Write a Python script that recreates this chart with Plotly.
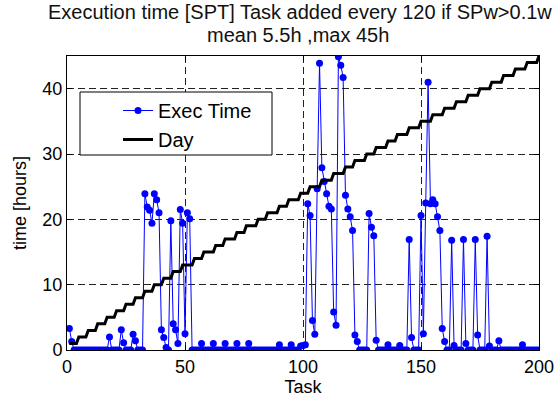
import plotly.graph_objects as go

# Task index (1..200)
tasks = list(range(1, 201))

# Execution time per task [hours]
exec_time = [
    3.3, 1.3, 0, 0, 0, 0, 0, 0, 0, 0,
    0, 0, 0, 0, 0, 0, 0, 2.0, 0, 0,
    0, 0, 3.1, 1.1, 0, 0, 0, 2.4, 1.4, 0,
    0, 0, 23.9, 21.9, 21.4, 19.4, 23.9, 23.0, 21.0, 3.1,
    1.9, 0.4, 0, 19.8, 4.0, 3.1, 1.0, 21.5, 19.4, 2.5,
    21.0, 20.1, 0, 0, 0, 0, 1.0, 0, 0, 0,
    0, 1.0, 0, 0, 0, 0, 1.0, 0, 0, 0,
    0, 1.0, 0, 0, 0, 0, 1.0, 0, 0, 0,
    0, 0, 0, 0, 0, 0, 0, 0, 0, 0.8,
    0, 0, 0, 0, 0.8, 0, 0, 0, 0.6, 0.7,
    0.8, 22.4, 20.6, 4.5, 2.4, 24.7, 43.9, 27.9, 25.8, 23.9,
    22.0, 21.6, 5.8, 3.8, 44.9, 43.6, 41.7, 23.7, 21.6, 20.4,
    18.3, 2.3, 1.3, 0, 0, 0, 0, 20.9, 18.8, 17.5,
    1.5, 0, 0, 0, 0, 0.8, 0, 0, 0, 0,
    0.7, 0, 0, 0, 16.9, 1.9, 0, 0, 0, 20.6,
    2.5, 22.5, 41.0, 22.4, 23.0, 22.4, 20.4, 18.3, 3.3, 1.3,
    0, 0, 16.8, 0.7, 0, 0, 0, 16.9, 1.0, 0,
    0, 0, 16.9, 2.3, 0, 0, 0, 17.4, 0.6, 0,
    0, 0, 1.4, 0, 0, 0, 0, 0, 0, 0,
    0, 0, 0.8, 0, 0, 0, 0, 0, 0, 0,
]

# Day staircase
day = [
    1, 1, 1, 1, 2, 2, 2, 2, 3, 3,
    3, 3, 4, 4, 4, 4, 5, 5, 5, 5,
    6, 6, 6, 6, 7, 7, 7, 7, 8, 8,
    8, 8, 9, 9, 9, 9, 10, 10, 10, 10,
    11, 11, 11, 11, 12, 12, 12, 12, 13, 13,
    13, 13, 13, 14, 14, 14, 14, 15, 15, 15,
    15, 15, 16, 16, 16, 16, 17, 17, 17, 17,
    17, 18, 18, 18, 18, 19, 19, 19, 19, 19,
    20, 20, 20, 20, 21, 21, 21, 21, 21, 22,
    22, 22, 22, 23, 23, 23, 23, 23, 24, 24,
    24, 24, 25, 25, 25, 25, 25, 26, 26, 26,
    26, 26, 27, 27, 27, 27, 27, 28, 28, 28,
    28, 29, 29, 29, 29, 29, 30, 30, 30, 30,
    31, 31, 31, 31, 31, 32, 32, 32, 32, 33,
    33, 33, 33, 33, 34, 34, 34, 34, 34, 35,
    35, 35, 35, 35, 36, 36, 36, 36, 36, 37,
    37, 37, 37, 37, 38, 38, 38, 38, 38, 39,
    39, 39, 39, 39, 40, 40, 40, 40, 40, 41,
    41, 41, 41, 41, 42, 42, 42, 42, 42, 43,
    43, 43, 43, 43, 44, 44, 44, 44, 44, 45,
]

x_ticks = [0, 50, 100, 150, 200]
y_ticks = [0, 10, 20, 30, 40]

title_lines = ["Execution time [SPT] Task added every 120 if SPw>0.1w",
               "mean 5.5h ,max 45h"]

FONT = "Liberation Sans, Arial, Helvetica, sans-serif"

W, H = 554, 406
ML, MR, MT, MB = 67, 15, 56, 56
PW, PH = W - ML - MR, H - MT - MB


def px_x(p):
    return (p - ML) / PW


def px_y(p):
    return (H - MB - p) / PH


fig = go.Figure()
fig.add_trace(go.Scatter(
    x=tasks, y=exec_time, mode="lines+markers", name="Exec Time",
    line=dict(color="#0000FF", width=1),
    marker=dict(color="#0000FF", size=7, line=dict(width=0)),
))
fig.add_trace(go.Scatter(
    x=tasks, y=day, mode="lines", name="Day",
    line=dict(color="black", width=3),
))

axis_common = dict(
    showline=True, linecolor="black", linewidth=1, mirror="allticks",
    ticks="inside", ticklen=5, tickcolor="black",
    showgrid=True, gridcolor="#222", gridwidth=1, griddash="7px,4px",
    zeroline=False, automargin=False, ticklabeloverflow="allow",
    tickfont=dict(size=18, family=FONT, color="black"),
)

annotations = [
    dict(text=title_lines[0], xref="paper", yref="paper",
         x=px_x(300), y=px_y(12), xanchor="center", yanchor="middle",
         showarrow=False, font=dict(size=20, family=FONT, color="#111")),
    dict(text=title_lines[1], xref="paper", yref="paper",
         x=px_x(298), y=px_y(35), xanchor="center", yanchor="middle",
         showarrow=False, font=dict(size=20, family=FONT, color="#111")),
]

shapes = [
    dict(type="rect", xref="paper", yref="paper",
         x0=px_x(80), x1=px_x(272), y0=px_y(155), y1=px_y(92),
         fillcolor="white", line=dict(color="black", width=1), layer="above"),
]

fig.update_layout(
    width=W, height=H,
    margin=dict(l=ML, r=MR, t=MT, b=MB),
    paper_bgcolor="white", plot_bgcolor="white",
    font=dict(family=FONT, size=18, color="black"),
    annotations=annotations,
    shapes=shapes,
    xaxis=dict(range=[0, 200], tickvals=x_ticks,
               title=dict(text="Task", standoff=4, font=dict(size=18)),
               **axis_common),
    yaxis=dict(range=[0, 45], tickvals=y_ticks,
               title=dict(text="time [hours]", standoff=11, font=dict(size=18)),
               **axis_common),
    legend=dict(
        x=px_x(118), y=px_y(91), xanchor="left", yanchor="top",
        bgcolor="rgba(0,0,0,0)", borderwidth=0,
        font=dict(size=20, family=FONT, color="black"),
    ),
    showlegend=True,
)

fig.write_html(
    "out.html",
    config={"displayModeBar": False},
    post_script="document.body.style.margin='0';document.body.style.overflow='hidden';",
)
